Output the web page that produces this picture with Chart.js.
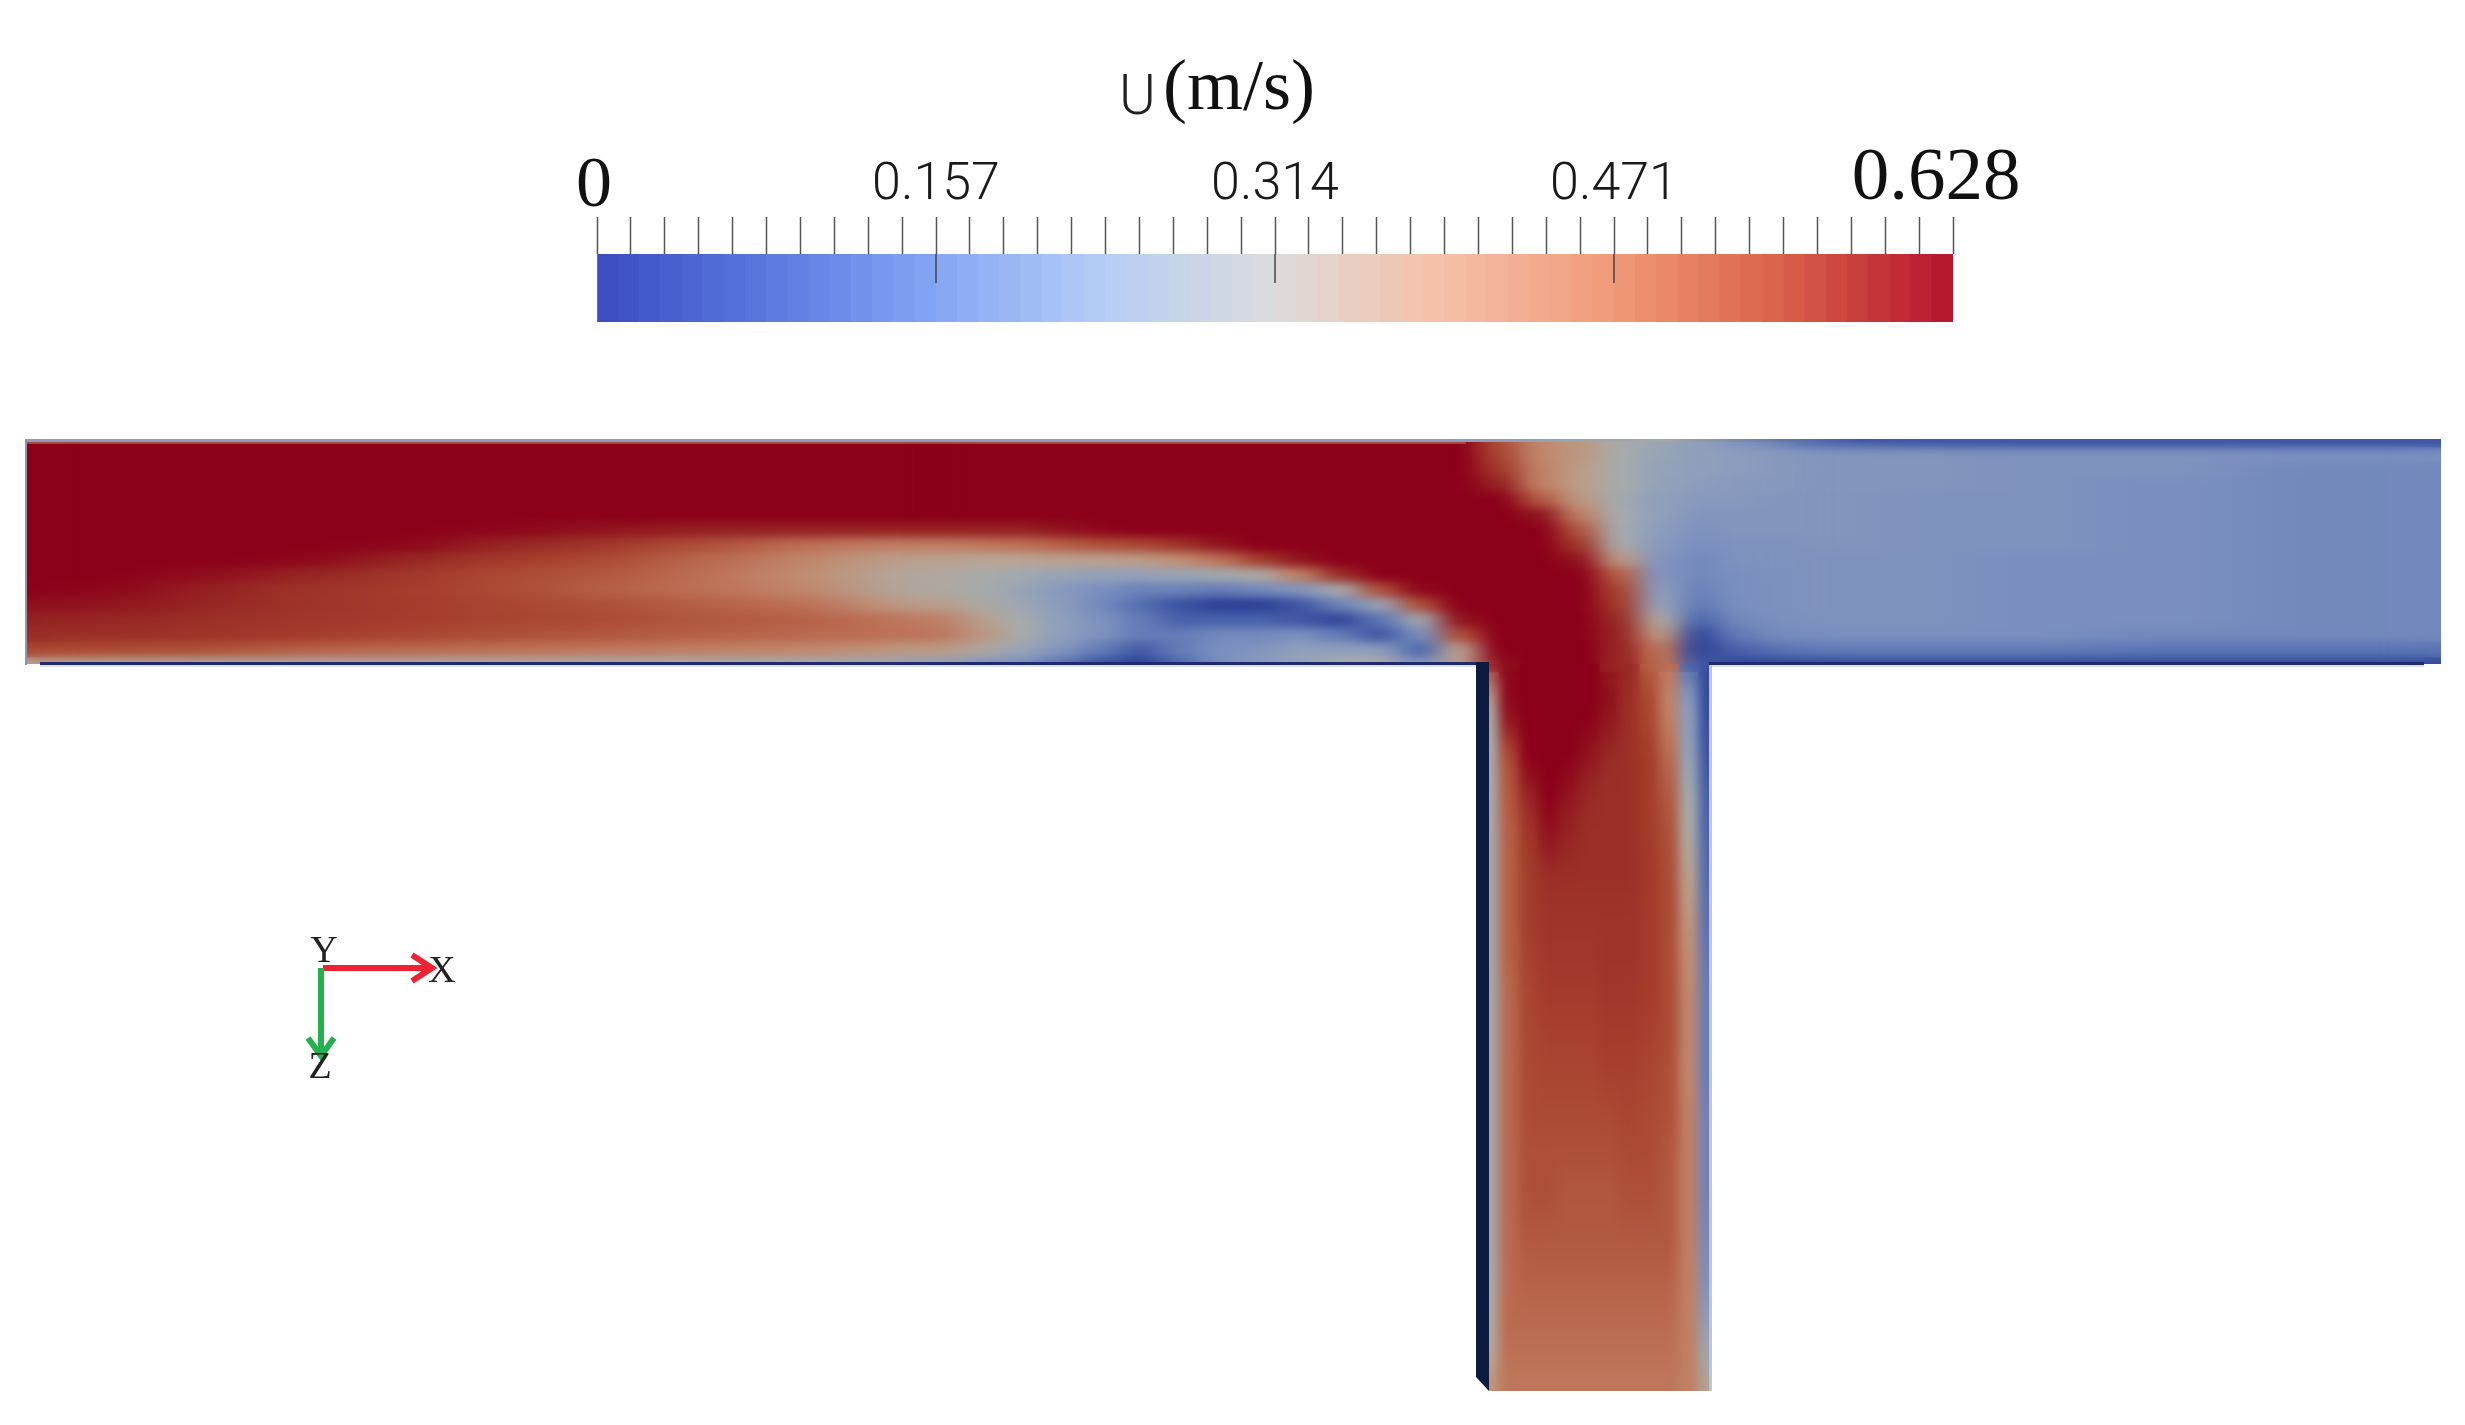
<!DOCTYPE html>
<html>
<head>
<meta charset="utf-8">
<title>U (m/s)</title>
<script src="https://cdn.jsdelivr.net/npm/chart.js@4"></script>
<style>
  html, body { margin:0; padding:0; background:#fff; }
  #wrap { position:relative; width:2465px; height:1425px; overflow:hidden; }
  canvas { position:absolute; left:0; top:0; }
</style>
</head>
<body>
<div id="wrap">
  <canvas id="grafico-campo" width="2465" height="1425"></canvas>
  <canvas id="grafico-barra" width="2465" height="340"></canvas>
</div>
<script>
// ----------------------------------------- Colour bar data ----------------------------------------- //
const barTicks = [0,.0157,.0314,.0471,.0628,.0785,.0942,.1099,.1256,.1413,.157,.1727,.1884,.2041,.2198,.2355,.2512,.2669,.2826,.2983,.314,
  .3297,.3454,.3611,.3768,.3925,.4082,.4239,.4396,.4553,.471,.4867,.5024,.5181,.5338,.5495,.5652,.5809,.5966,.6123,.628];
const barLabels = [0.157, 0.314, 0.471];
const BANDAS = 64;   // colour steps in the legend

// ----------------------------------------- Velocity, in cm/s ----------------------------------------- //
// horizontal pipe: one array per row, one value per column
const hEdges = [0,60,160,260,360,460,560,660,760,860,960,1000,1040,1080,1120,1160,1200,1240,1280,1320,1360,1400,1440,1480,1520,1560,1600,1640,1680,1720,1760,1800,1880,1980,2100,2240,2465];
const hRowY = [439,454,469,484,499,514,529,544,559,574,589,604,619,634,649,664];
const uH00 = [63,63,63,63,63,63,63,63,63,63, 63,63,63,63,63,63,63,63,63,63,63,63,63,48,41,38,31,27,25,21,18, 12,10,10,10,10];
const uH01 = [63,63,63,63,63,63,63,63,63,63, 63,63,63,63,63,63,63,63,63,63,63,63,63,50,41,38,30,27,25,24,23, 22,22,21,21,20];
const uH02 = [63,63,63,63,63,63,63,63,63,63, 63,63,63,63,63,63,63,63,63,63,63,63,63,53,42,37,30,26,25,24,23, 22,22,21,21,19];
const uH03 = [63,63,63,63,63,63,63,63,63,63, 63,63,63,63,63,63,63,63,63,63,63,63,63,58,42,37,30,26,24,23,23, 22,22,21,20,19];
const uH04 = [63,63,63,63,63,63,63,63,63,63, 63,63,63,63,63,63,63,63,63,63,63,63,63,63,47,38,29,25,23,23,22, 22,21,21,20,19];
const uH05 = [63,63,63,63,63,63,63,63,63,63, 63,63,63,63,63,63,63,63,63,63,63,63,63,63,60,42,30,25,22,22,22, 22,21,21,20,19];
const uH06 = [63,63,63,63,63,62,60,58,58,58, 58,58,60,62,63,63,63,63,63,63,63,63,63,63,63,47,30,24,21,22,22, 22,21,21,20,19];
const uH07 = [63,63,63,63,62,57,53,48,44,42, 43,44,46,48,50,54,60,63,63,63,63,63,63,63,63,53,31,23,20,21,21, 22,21,21,20,19];
const uH08 = [63,63,63,62,57,52,49,45,41,36, 35,35,36,36,37,40,44,52,60,63,63,63,63,63,63,60,38,22,19,21,21, 21,21,20,20,19];
const uH09 = [63,63,61,57,53,49,47,44,40,33, 31,29,27,26,26,27,29,32,42,55,63,63,63,63,63,63,46,22,19,20,21, 21,21,20,20,19];
const uH10 = [63,62,58,54,52,49,46,44,41,33, 30,27,23,20,18,18,17,19,22,30,48,62,63,63,63,63,50,24,18,20,21, 21,21,20,20,19];
const uH11 = [61,60,57,54,52,50,48,46,44,37, 32,28,24,19,15,10, 7, 7,11,18,27,48,63,63,63,63,52,26,17,20,21, 21,21,20,20,19];
const uH12 = [58,57,55,53,52,50,49,47,46,43, 36,30,25,21,17,13,13,13,11, 8,16,29,60,63,63,63,56,32,14,19,21, 21,21,20,20,19];
const uH13 = [56,55,54,52,50,48,47,46,45,44, 38,31,25,21,17,17,19,19,20,17,11,20,48,63,63,63,57,38, 9,17,20, 20,20,20,19,19];
const uH14 = [50,49,48,46,45,44,43,42,41,38, 33,27,22,17,12,17,20,22,25,25,24,14,36,63,63,63,57,44, 8,13,16, 17,17,17,16,16];
const uH15 = [36,34,33,32,32,32,31,30,29,27, 22,20,16,10, 7,14,20,23,27,30,32,22,36,60,63,63,56,46,12, 8, 8,  9, 9, 9, 9, 9];
const hRows = [uH00,uH01,uH02,uH03,uH04,uH05,uH06,uH07,uH08,uH09,uH10,uH11,uH12,uH13,uH14,uH15];

// vertical pipe
const vEdges = [1479,1499,1519,1539,1559,1579,1599,1619,1639,1659,1679,1699,1719];
const vRowY = [676,716,756,796,836,876,916,956,996,1036,1076,1116,1156,1196,1236,1276,1316,1356,1396];
const uV00 = [40,63,63,63,63,63,62,56,49,41,22, 7];
const uV01 = [30,61,63,63,63,63,60,55,50,42,24, 9];
const uV02 = [30,48,63,63,63,60,56,55,52,45,26,10];
const uV03 = [30,47,57,63,60,56,55,55,52,47,30,12];
const uV04 = [29,46,53,60,57,55,55,55,52,48,32,13];
const uV05 = [29,46,52,55,55,55,55,55,53,49,36,14];
const uV06 = [29,46,52,54,54,54,54,54,52,49,38,15];
const uV07 = [29,46,51,53,53,53,54,54,52,49,40,16];
const uV08 = [29,45,50,52,52,52,53,53,52,49,41,17];
const uV09 = [29,45,50,51,51,51,52,52,51,49,41,17];
const uV10 = [29,45,49,50,50,50,51,51,50,48,41,17];
const uV11 = [29,45,49,49,49,49,49,50,49,48,42,18];
const uV12 = [29,45,48,48,48,48,48,49,49,47,42,18];
const uV13 = [29,45,48,48,47,47,47,48,48,47,42,18];
const uV14 = [29,45,47,47,47,47,47,47,47,47,42,19];
const uV15 = [30,45,46,46,46,46,46,46,46,46,42,20];
const uV16 = [31,45,45,45,45,45,45,45,45,45,42,24];
const uV17 = [34,44,44,44,44,44,44,44,44,44,42,29];
const uV18 = [40,43,43,43,43,43,43,43,43,43,42,36];
const vRows = [uV00,uV01,uV02,uV03,uV04,uV05,uV06,uV07,uV08,uV09,uV10,uV11,uV12,uV13,uV14,uV15,uV16,uV17,uV18];

// ----------------------------------------- Colour maps ----------------------------------------- //
const fieldStops = [[0,'#1c2a78'],[7,'#2c3f96'],[14,'#4d68ae'],[20,'#7a8fbf'],[25,'#8f9fbb'],[30,'#a6abab'],[35,'#b8a595'],
  [40,'#c18e72'],[44,'#bd7156'],[48,'#ae5038'],[52,'#a43c2c'],[56,'#992c26'],[60,'#90151f'],[63,'#8c0019']];
const barStops = [[0,'#3b4cc0'],[.0785,'#5a78e0'],[.157,'#85a5f4'],[.235,'#b5cdf5'],[.314,'#dcdcdc'],[.39,'#f5c0a8'],
  [.471,'#f09a7a'],[.55,'#d9604a'],[.628,'#b4132c']];

function corRampa(stops, v) {
  let i = 1;
  while (i < stops.length - 1 && v > stops[i][0]) i++;
  const [a, ca] = stops[i-1], [b, cb] = stops[i];
  const f = Math.min(1, Math.max(0, (v - a) / (b - a)));
  const mix = s => {
    const p = parseInt(ca.slice(s,s+2),16), q = parseInt(cb.slice(s,s+2),16);
    return Math.round(p + (q - p) * f);
  };
  return `rgb(${mix(1)},${mix(3)},${mix(5)})`;
}

// ----------------------------------------- Field chart ----------------------------------------- //
function linhaCampo(row, y, edges, espessura) {
  return {
    data: row.map((_, k) => ({ x:[edges[k], edges[k+1]], y })),
    backgroundColor: row.map(u => corRampa(fieldStops, u)),
    barThickness: espessura,
    grouped: false,
    borderWidth: 0
  };
}

const SERIF = "'Liberation Serif'";
const FUNDO = 1391;   // open end of the vertical pipe

function tracoT(ctx, sx, sy) {
  ctx.moveTo(sx(26), sy(439));
  ctx.lineTo(sx(2441), sy(439));
  ctx.lineTo(sx(2441), sy(664));
  ctx.lineTo(sx(1709), sy(664));
  ctx.lineTo(sx(1709), sy(FUNDO));
  ctx.lineTo(sx(1489), sy(FUNDO));
  ctx.lineTo(sx(1489), sy(664));
  ctx.lineTo(sx(26), sy(664));
  ctx.closePath();
}

// blur with a different radius per direction (squeeze, blur, stretch back), edges of the patch feathered along one axis
function suavizar(ctx, src, x0, y0, x1, y1, bx, by, pena, eixo) {
  const W = src.width, H = src.height;
  const s = Math.min(bx, by);
  const tw = Math.round(W * s / bx), th = Math.round(H * s / by);
  const tmp = document.createElement('canvas');
  tmp.width = tw; tmp.height = th;
  const t = tmp.getContext('2d');
  t.filter = `blur(${s}px)`;
  t.drawImage(src, 0, 0, tw, th);

  const camada = document.createElement('canvas');
  camada.width = W; camada.height = H;
  const c = camada.getContext('2d');
  c.imageSmoothingEnabled = true;
  c.imageSmoothingQuality = 'high';
  c.beginPath();
  c.rect(x0, y0, x1 - x0, y1 - y0);
  c.clip();
  c.drawImage(tmp, 0, 0, tw, th, 0, 0, W, H);
  if (pena) {
    const g = eixo === 'x' ? c.createLinearGradient(x0, 0, x1, 0) : c.createLinearGradient(0, y0, 0, y1);
    const f = pena / (eixo === 'x' ? x1 - x0 : y1 - y0);
    g.addColorStop(0, 'rgba(0,0,0,0)');
    g.addColorStop(f, 'rgba(0,0,0,1)');
    g.addColorStop(1 - f, 'rgba(0,0,0,1)');
    g.addColorStop(1, 'rgba(0,0,0,0)');
    c.globalCompositeOperation = 'destination-in';
    c.fillStyle = g;
    c.fillRect(0, 0, W, H);
  }
  ctx.drawImage(camada, 0, 0);
}

function seta(ctx, x0, y0, x1, y1, bx, by, cor) {
  ctx.strokeStyle = cor;
  ctx.lineWidth = 6;
  ctx.lineCap = 'butt';
  ctx.beginPath();
  ctx.moveTo(x0, y0); ctx.lineTo(x1, y1);
  ctx.stroke();
  ctx.beginPath();
  ctx.moveTo(bx[0], by[0]); ctx.lineTo(x1, y1); ctx.lineTo(bx[1], by[1]);
  ctx.stroke();
}

const pluginCampo = {
  id: 'campo',
  afterDatasetsDraw(chart) {
    const ctx = chart.ctx;
    const sx = v => chart.scales.x.getPixelForValue(v);
    const sy = v => chart.scales.y.getPixelForValue(v);

    // smooth the cells
    const copia = document.createElement('canvas');
    copia.width = chart.canvas.width; copia.height = chart.canvas.height;
    copia.getContext('2d').drawImage(chart.canvas, 0, 0);
    suavizar(ctx, copia, 0, 420, 1040, 664, 40, 5);
    suavizar(ctx, copia, 1700, 420, 2465, 664, 40, 5);
    suavizar(ctx, copia, 900, 420, 1840, 664, 14, 5, 120, 'x');
    suavizar(ctx, copia, 1489, 640, 1709, 1500, 6, 18, 40, 'y');

    // white outside the pipe
    ctx.save();
    ctx.fillStyle = '#fff';
    ctx.beginPath();
    ctx.rect(0, 0, chart.width, chart.height);
    tracoT(ctx, sx, sy);
    ctx.fill('evenodd');
    ctx.restore();

    // walls
    ctx.save();
    const borda = ctx.createLinearGradient(sx(1466), 0, sx(1860), 0);
    borda.addColorStop(0, '#8f9cba');
    borda.addColorStop(0.5, '#a3a8a8');
    borda.addColorStop(1, '#4258ad');
    ctx.fillStyle = borda; ctx.fillRect(sx(26), sy(439), 2415, 3);
    ctx.fillStyle = '#a8483a'; ctx.fillRect(sx(26), sy(442), 1440, 2);
    ctx.fillStyle = '#8f96b0'; ctx.fillRect(sx(25), sy(439), 2, 226);
    ctx.fillStyle = '#dfe2ea'; ctx.fillRect(sx(40), sy(665), 1436, 2); ctx.fillRect(sx(1712), sy(665), 712, 2);
    ctx.fillStyle = '#1f2a70'; ctx.fillRect(sx(40), sy(662), 1449, 3); ctx.fillRect(sx(1709), sy(662), 715, 3);
    ctx.fillStyle = '#0f1a40';
    ctx.beginPath();
    ctx.moveTo(sx(1476), sy(662)); ctx.lineTo(sx(1489), sy(662)); ctx.lineTo(sx(1489), sy(FUNDO));
    ctx.lineTo(sx(1476), sy(FUNDO - 14)); ctx.closePath(); ctx.fill();
    ctx.fillStyle = '#b9c5e5'; ctx.fillRect(sx(1709), sy(665), 3, FUNDO - 665);

    // axes triad
    seta(ctx, sx(323), sy(968), sx(432), sy(968), [sx(412), sx(412)], [sy(955), sy(981)], '#ee2233');
    seta(ctx, sx(321), sy(968), sx(321), sy(1056), [sx(308), sx(334)], [sy(1038), sy(1038)], '#22b14c');
    ctx.fillStyle = '#222';
    ctx.font = `38px ${SERIF}`;
    ctx.textAlign = 'center';
    ctx.textBaseline = 'middle';
    ctx.fillText('Y', sx(324), sy(952));
    ctx.fillText('X', sx(442), sy(972));
    ctx.fillText('Z', sx(320), sy(1068));
    ctx.restore();
  }
};

new Chart(document.getElementById('grafico-campo'), {
  type: 'bar',
  data: {
    datasets: [
      ...hRows.map((row, i) => linhaCampo(row, hRowY[i], hEdges, 16)),
      ...vRows.map((row, i) => linhaCampo(row, vRowY[i], vEdges, 41))
    ]
  },
  options: {
    indexAxis: 'y',
    responsive: false,
    animation: false,
    devicePixelRatio: 1,
    layout: { padding: 0 },
    plugins: { legend: { display:false }, tooltip: { enabled:false } },
    scales: {
      x: { type:'linear', min:0, max:2465, display:false },
      y: { type:'linear', min:0, max:1425, reverse:true, offset:false, display:false }
    }
  },
  plugins: [pluginCampo]
});

// ----------------------------------------- Colour bar chart ----------------------------------------- //
const pluginBarra = {
  id: 'barra',
  afterDraw(chart) {
    const ctx = chart.ctx;
    const x = chart.scales.x;
    ctx.save();
    // long ticks cross into the bar
    ctx.strokeStyle = '#444';
    ctx.lineWidth = 1.5;
    barLabels.forEach(v => {
      ctx.beginPath();
      ctx.moveTo(x.getPixelForValue(v), chart.chartArea.top);
      ctx.lineTo(x.getPixelForValue(v), 283);
      ctx.stroke();
    });
    ctx.fillStyle = '#111';
    ctx.textBaseline = 'alphabetic';
    ctx.textAlign = 'center';
    ctx.font = `72px ${SERIF}`;
    ctx.fillText('0', x.getPixelForValue(0) - 3, 206);
    ctx.font = `75px ${SERIF}`;
    ctx.fillText('0.628', x.getPixelForValue(0.628) - 17, 199);
    ctx.textAlign = 'left';
    ctx.fillStyle = '#222';
    ctx.font = '300 56px Roboto';
    ctx.fillText('U', 1119, 114);
    ctx.fillStyle = '#111';
    ctx.font = `72px ${SERIF}`;
    ctx.fillText('(m/s)', 1163, 109);
    ctx.restore();
  }
};

const paso = 0.628 / BANDAS;
new Chart(document.getElementById('grafico-barra'), {
  type: 'bar',
  data: {
    labels: ['U'],
    datasets: [{
      data: Array.from({ length:BANDAS }, (_, k) => ({ x:[k * paso, (k + 1) * paso], y:'U' })),
      backgroundColor: Array.from({ length:BANDAS }, (_, k) => corRampa(barStops, (k + 0.5) * paso)),
      grouped: false,
      categoryPercentage: 1,
      barPercentage: 1,
      borderWidth: 0
    }]
  },
  options: {
    indexAxis: 'y',
    responsive: false,
    animation: false,
    devicePixelRatio: 1,
    layout: { padding: { left:597, right:512, top:0, bottom:18 } },
    plugins: { legend: { display:false }, tooltip: { enabled:false } },
    scales: {
      x: {
        type: 'linear',
        position: 'top',
        min: 0,
        max: 0.628,
        afterBuildTicks: s => { s.ticks = barTicks.map(value => ({ value })); },
        afterFit: s => { s.height = 254; },
        border: { display:false },
        grid: { drawOnChartArea:false, tickLength:37, tickColor:'#555', tickWidth:1.5 },
        ticks: {
          autoSkip: false,
          maxRotation: 0,
          padding: 0,
          color: '#1a1a1a',
          font: { family:'Roboto', weight:'300', size:52 },
          callback: v => barLabels.includes(v) ? String(v) : ''
        }
      },
      y: { type:'category', display:false }
    }
  },
  plugins: [pluginBarra]
});
</script>
</body>
</html>
